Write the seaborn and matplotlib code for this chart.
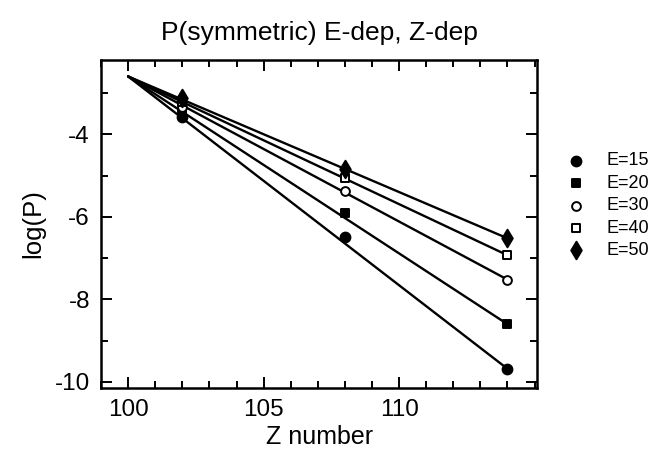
import numpy as np
import pandas as pd
import matplotlib
matplotlib.use("Agg")
import matplotlib.pyplot as plt
from matplotlib.ticker import MultipleLocator
import seaborn as sns

# ---- data ----
z_points = [102, 108, 114]
labels = ["E=15", "E=20", "E=30", "E=40", "E=50"]
logp_e15 = [-3.58, -6.50, -9.68]
logp_e20 = [-3.45, -5.90, -8.60]
logp_e30 = [-3.33, -5.38, -7.52]
logp_e40 = [-3.22, -5.05, -6.93]
logp_e50 = [-3.12, -4.85, -6.52]
series_values = [logp_e15, logp_e20, logp_e30, logp_e40, logp_e50]
line_z = [100, 114]
line_start = -2.6
x_ticks = [100, 105, 110]
y_ticks = [-10, -8, -6, -4]

markers = ["o", "s", "o", "s", "d"]
filled = [True, True, False, False, True]
msizes = [50, 40, 40, 36, 80]

sns.set_style("ticks")
plt.rcParams["font.family"] = ["Liberation Sans", "DejaVu Sans"]
plt.rcParams["axes.unicode_minus"] = False
plt.rcParams["text.color"] = "black"
plt.rcParams["axes.labelcolor"] = "black"
plt.rcParams["xtick.color"] = "black"
plt.rcParams["ytick.color"] = "black"

fig = plt.figure(figsize=(6.52, 4.61), dpi=100)
ax = fig.add_axes([0.155, 0.158, 0.669, 0.712])

for lab, vals, mk, fl, ms in zip(labels, series_values, markers, filled, msizes):
    line_df = pd.DataFrame({"z": line_z, "logp": [line_start, vals[-1]]})
    sns.lineplot(data=line_df, x="z", y="logp", ax=ax, color="black",
                 linewidth=1.7, legend=False)
    pt_df = pd.DataFrame({"z": z_points, "logp": vals})
    sns.scatterplot(data=pt_df, x="z", y="logp", ax=ax, marker=mk, s=ms,
                    facecolor="black" if fl else "white", edgecolor="black",
                    linewidth=1.4, label=lab, zorder=5)

ax.set_xlim(99, 115.1)
ax.set_ylim(-10.15, -2.2)
ax.set_xticks(x_ticks)
ax.set_yticks(y_ticks)
ax.xaxis.set_minor_locator(MultipleLocator(1))
ax.yaxis.set_minor_locator(MultipleLocator(1))
ax.tick_params(which="both", direction="in", top=True, right=True,
               color="black", width=1.4)
ax.tick_params(which="major", length=8, labelsize=17.5, pad=8)
ax.tick_params(which="minor", length=5)
for sp in ax.spines.values():
    sp.set_linewidth(1.8)
    sp.set_color("black")

ax.set_xlabel("Z number", fontsize=18, labelpad=3)
ax.set_ylabel("log(P)", fontsize=18.5, labelpad=7)
ax.set_title("P(symmetric) E-dep, Z-dep", fontsize=19, pad=14)

handles, hl = ax.get_legend_handles_labels()
ax.legend(handles, hl, loc="upper left", bbox_to_anchor=(1.03, 0.74),
          frameon=False, fontsize=13, handletextpad=0.7, labelspacing=0.3,
          borderaxespad=0)

fig.savefig("out.png", dpi=100)
